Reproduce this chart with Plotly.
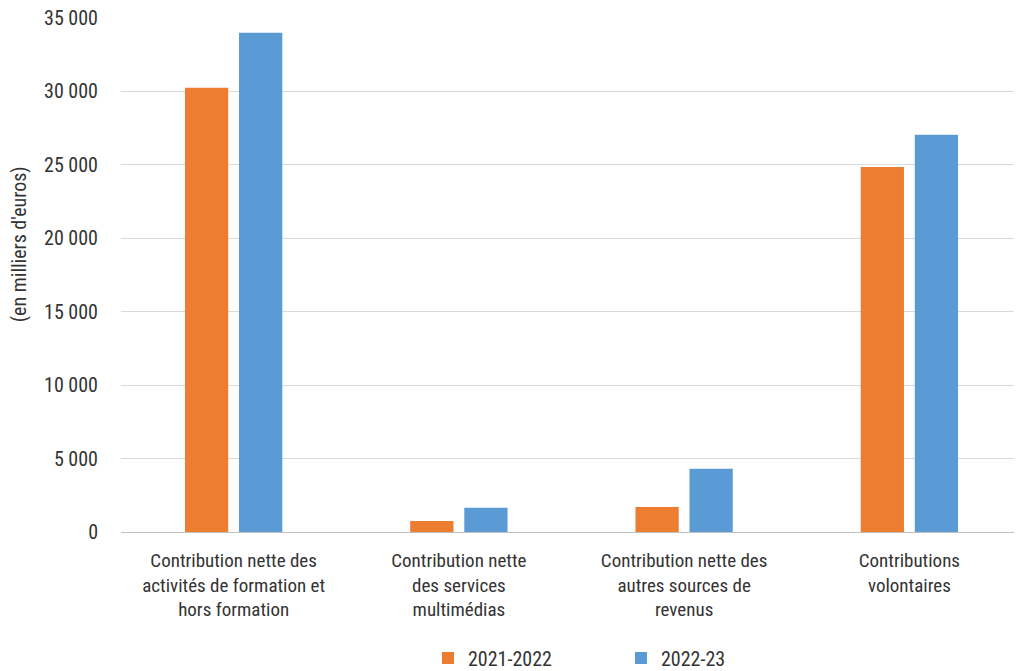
import plotly.graph_objects as go

categories = [
    "Contribution nette des<br>activités de formation et<br>hors formation",
    "Contribution nette<br>des services<br>multimédias",
    "Contribution nette des<br>autres sources de<br>revenus",
    "Contributions<br>volontaires",
]
series_names = ["2021-2022", "2022-23"]
values_2021_2022 = [30250, 750, 1700, 24850]
values_2022_23 = [34000, 1650, 4300, 27050]
colors = ["#ED7D31", "#5B9BD5"]
y_title = "(en milliers d'euros)"

FONT = "Roboto Condensed, Liberation Sans Narrow, DejaVu Sans Condensed, sans-serif"

fig = go.Figure()
for name, vals, col in zip(series_names, [values_2021_2022, values_2022_23], colors):
    fig.add_trace(go.Bar(x=categories, y=vals, name=name, marker_color=col,
                         marker_line_width=0))

fig.update_layout(
    width=1014, height=663,
    margin=dict(l=113, r=0, t=10, b=139, autoexpand=False),
    paper_bgcolor="white", plot_bgcolor="white",
    barmode="group", bargap=0.52, bargroupgap=0.2,
    separators=", ",
    font=dict(family=FONT, size=19, color="#333333"),
    legend=dict(orientation="h", x=0.3407, xanchor="left", y=-0.245, yanchor="middle",
                font=dict(size=20), itemwidth=30, traceorder="normal",
                entrywidth=148, entrywidthmode="pixels"),
    showlegend=True,
)
fig.add_annotation(text=y_title, xref="paper", yref="paper", x=-0.1132, y=0.56,
                   xanchor="center", yanchor="middle", textangle=-90, showarrow=False,
                   font=dict(size=20, color="#333333"))
fig.update_yaxes(range=[0, 35000], dtick=5000, tickformat=",d", automargin=False,
                 showgrid=True, gridcolor="#D9D9D9", gridwidth=1,
                 zeroline=False, showline=False, ticklabeloverflow="allow",
                 ticklabelstandoff=22, tickfont=dict(size=20))
fig.update_xaxes(showline=True, linecolor="#BFBFBF", linewidth=1, automargin=False,
                 ticks="", tickfont=dict(size=19), ticklabelstandoff=11)

fig.write_html("out.html")
